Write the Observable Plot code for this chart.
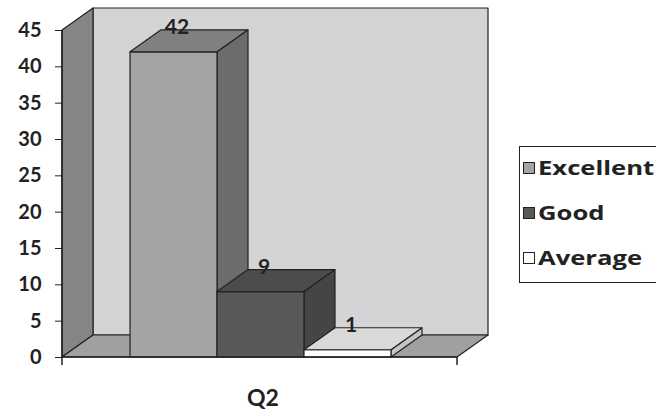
<!DOCTYPE html>
<html><head><meta charset="utf-8">
<script src="https://cdn.jsdelivr.net/npm/d3@7"></script>
<script src="https://cdn.jsdelivr.net/npm/@observablehq/plot@0.6"></script>
<style>
body{margin:0;background:#fff;}
#wrap{position:relative;width:656px;height:419px;overflow:hidden;font-family:Lato,sans-serif;}
#wrap svg{position:absolute;left:0;top:0;}
#legend{position:absolute;left:519px;top:146px;width:150px;height:137px;border:1.5px solid #222;box-sizing:border-box;background:#fff}
.item{position:absolute;left:3px;height:26px;display:flex;align-items:center;font-family:"Open Sans",sans-serif;font-weight:bold;font-size:20px;color:#222;line-height:26px;white-space:nowrap}
.item .lbl{display:inline-block;transform:scaleX(1.28);transform-origin:0 50%}
.sw{width:10px;height:10px;border:1.5px solid #222;margin-right:3px;flex:none}
</style></head><body><div id="wrap"></div>
<script>
const categories = ["Excellent", "Good", "Average"];
const values = [42, 9, 1];
const yTicks = [0, 5, 10, 15, 20, 25, 30, 35, 40, 45];
const xLabel = "Q2";
const frontColors = ["#a4a4a4", "#595959", "#ffffff"];
const topColors = ["#808080", "#4c4c4c", "#d9d9d9"];
const sideColors = ["#6c6c6c", "#454545", "#c4c4c4"];

const data = categories.map((c, i) => ({category: c, i, value: values[i]}));
const xDomain = [-1.282, 3.259];
const yDomain = [0, 45];
const DX = 31, DY = 22;

function poly(g, pts, fill) {
  g.append("path")
    .attr("d", "M" + pts.map(p => p.join(",")).join("L") + "Z")
    .attr("fill", fill)
    .attr("stroke", "#222")
    .attr("stroke-width", 1.2)
    .attr("stroke-linejoin", "round");
}

function scene(index, scales) {
  const x = scales.x, y = scales.y;
  const g = d3.create("svg:g");
  const xL = x(xDomain[0]), xR = x(xDomain[1]);
  const y0 = y(0), yT = y(yDomain[1]);
  // back wall
  poly(g, [[xL + DX, yT - DY], [xR + DX, yT - DY], [xR + DX, y0 - DY], [xL + DX, y0 - DY]], "#d4d3d6");
  // left wall
  poly(g, [[xL, yT], [xL + DX, yT - DY], [xL + DX, y0 - DY], [xL, y0]], "#858585");
  // floor
  poly(g, [[xL, y0], [xR, y0], [xR + DX, y0 - DY], [xL + DX, y0 - DY]], "#a0a0a0");
  // bars, left to right
  data.forEach(d => {
    const x0 = x(d.i - 0.5), x1 = x(d.i + 0.5), yv = y(d.value);
    poly(g, [[x1, yv], [x1 + DX, yv - DY], [x1 + DX, y0 - DY], [x1, y0]], sideColors[d.i]);
    poly(g, [[x0, yv], [x1, yv], [x1, y0], [x0, y0]], frontColors[d.i]);
    poly(g, [[x0, yv], [x1, yv], [x1 + DX, yv - DY], [x0 + DX, yv - DY]], topColors[d.i]);
  });
  // axis lines and x ticks
  const axis = "#222";
  g.append("line").attr("x1", xL).attr("x2", xL).attr("y1", yT).attr("y2", y0).attr("stroke", axis).attr("stroke-width", 1.5);
  g.append("line").attr("x1", xL).attr("x2", xR).attr("y1", y0).attr("y2", y0).attr("stroke", axis).attr("stroke-width", 1.5);
  [xL, xR].forEach(xx => g.append("line").attr("x1", xx).attr("x2", xx).attr("y1", y0).attr("y2", y0 + 8).attr("stroke", axis).attr("stroke-width", 1.5));
  return g.node();
}

const chart = Plot.plot({
  width: 656,
  height: 419,
  marginLeft: 62,
  marginRight: 199,
  marginTop: 30,
  marginBottom: 62,
  style: {fontFamily: "Lato, sans-serif", fontSize: "20px", fontWeight: "bold", color: "#222", background: "transparent"},
  x: {domain: xDomain, axis: null},
  y: {domain: yDomain, ticks: yTicks, tickSize: 7, tickPadding: 14, label: null},
  marks: [
    scene,
    Plot.text(data, {x: "i", y: "value", text: d => String(d.value), dx: 3, dy: -25, fontSize: 21, fontWeight: "bold", fill: "#222"}),
    Plot.text([xLabel], {frameAnchor: "bottom", dy: 48, dx: 3, fontSize: 23, fontWeight: "bold", fill: "#222"})
  ]
});

const wrap = document.getElementById("wrap");
wrap.appendChild(chart);
const legend = document.createElement("div");
legend.id = "legend";
categories.forEach((c, i) => {
  const item = document.createElement("div");
  item.className = "item";
  item.style.top = (8 + i * 45) + "px";
  const sw = document.createElement("span");
  sw.className = "sw";
  sw.style.background = frontColors[i];
  item.appendChild(sw);
  const lbl = document.createElement("span");
  lbl.className = "lbl";
  lbl.textContent = c;
  item.appendChild(lbl);
  legend.appendChild(item);
});
wrap.appendChild(legend);
</script></body></html>
